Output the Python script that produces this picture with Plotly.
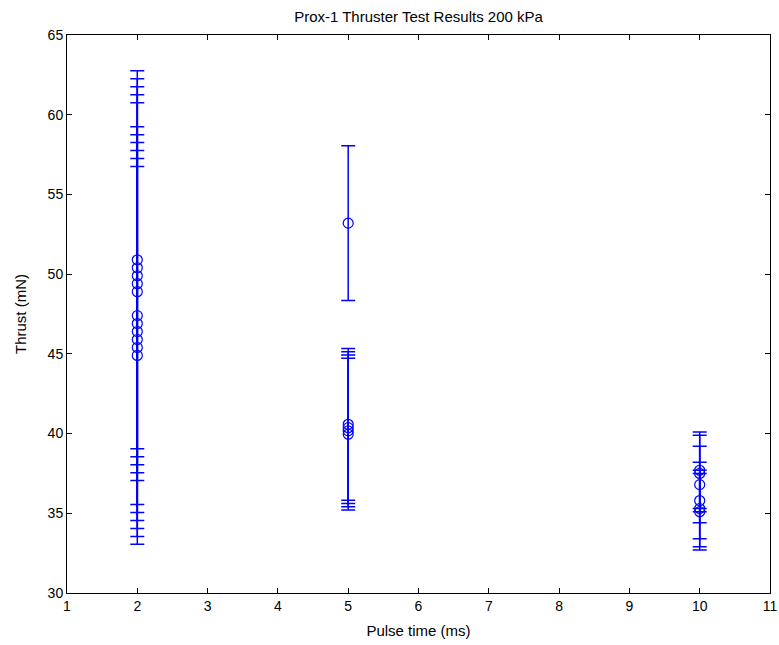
import plotly.graph_objects as go

# pulse time (ms) and measured thrust (mN) with symmetric error
pulse_2 = [2] * 11
thrust_2 = [50.9, 50.4, 49.9, 49.4, 48.9, 47.4, 46.9, 46.4, 45.9, 45.4, 44.9]
err_2 = [11.85] * 11

pulse_5 = [5] * 5
thrust_5 = [53.2, 40.58, 40.37, 40.17, 39.96]
err_5 = [4.85, 4.76, 4.76, 4.76, 4.76]

pulse_10 = [10] * 6
thrust_10 = [37.7, 37.5, 36.8, 35.8, 35.3, 35.1]
err_10 = [2.4] * 6

x_ticks = list(range(1, 12))
y_ticks = list(range(30, 66, 5))

fig = go.Figure()
for xs, ys, es in [(pulse_2, thrust_2, err_2), (pulse_5, thrust_5, err_5), (pulse_10, thrust_10, err_10)]:
    fig.add_trace(go.Scatter(
        x=xs, y=ys, mode='markers',
        marker=dict(symbol='circle-open', size=10, color='#0000ff', line=dict(width=1.2)),
        error_y=dict(type='data', array=es, visible=True, color='#0000ff', thickness=1.5, width=7),
        showlegend=False
    ))

axis_common = dict(
    showline=True, linecolor='black', linewidth=1, mirror='ticks',
    ticks='inside', ticklen=5, tickcolor='black', showgrid=False, zeroline=False,
    tickfont=dict(size=14, color='black'), automargin=False
)

fig.update_layout(
    width=779, height=645,
    margin=dict(l=67, r=9, t=35, b=52),
    paper_bgcolor='white', plot_bgcolor='white',
    font=dict(family='Liberation Sans, Arial, sans-serif', size=14, color='black'),
    title=dict(text='Prox-1 Thruster Test Results 200 kPa', x=0.5, xref='paper',
               y=1, yref='container', yanchor='top', pad=dict(t=11), font=dict(size=15)),
    xaxis=dict(range=[1, 11], tickvals=x_ticks,
               title=dict(text='Pulse time (ms)', standoff=12, font=dict(size=15)), **axis_common),
    yaxis=dict(range=[30, 65], tickvals=y_ticks,
               title=dict(text='Thrust (mN)', standoff=17, font=dict(size=15)), **axis_common),
)

# drop the default body margin so the figure sits at the window's corner
fig.write_html("out.html", config=dict(displayModeBar=False),
               post_script="document.body.style.margin='0';document.body.style.overflow='hidden';")
